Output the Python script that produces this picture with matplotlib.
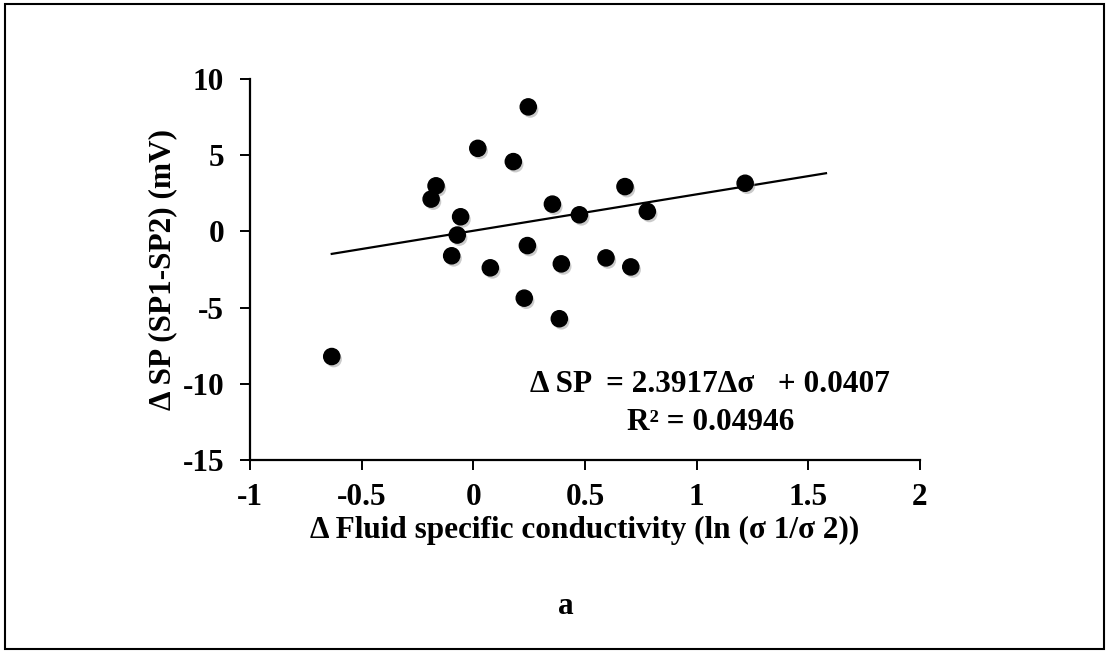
"""Scatter of delta SP against delta fluid conductivity, with linear trendline."""

import matplotlib.pyplot as plt
import matplotlib.patheffects as pe
from matplotlib.patches import Rectangle
import numpy as np

plt.switch_backend("Agg")
plt.rcParams["font.family"] = ["Liberation Serif", "DejaVu Serif"]
plt.rcParams["font.weight"] = "bold"

# values
d_sigma = [0.246, 0.02, 0.179, -0.167, -0.189, -0.057, -0.072, -0.097,
           0.076, 0.242, 0.354, 0.475, 0.679, 0.394, 0.594, 0.705,
           0.228, 0.385, -0.634, 1.217, 0.779]
d_sp = [8.17, 5.45, 4.58, 2.99, 2.12, 0.96, -0.24, -1.60,
        -2.39, -0.93, 1.79, 1.09, 2.94, -2.13, -1.74, -2.33,
        -4.38, -5.73, -8.21, 3.16, 1.31]

slope, intercept = 2.3917, 0.0407
fit_range = [-0.634, 1.579]

x_ticks = [-1, -0.5, 0, 0.5, 1, 1.5, 2]
x_labels = ["-1", "-0.5", "0", "0.5", "1", "1.5", "2"]
y_ticks = [-15, -10, -5, 0, 5, 10]
y_labels = ["-15", "-10", "-5", "0", "5", "10"]

FS = 22.5
W, H = 1109, 651

fig = plt.figure(figsize=(W / 100, H / 100), dpi=100)
ax = fig.add_axes([250 / W, 1 - 460 / H, 670 / W, 381 / H])

xf = np.array(fit_range)
ax.plot(xf, slope * xf + intercept, color="black", lw=1.6, zorder=2)

ax.scatter(d_sigma, d_sp, s=135, color="black", zorder=3,
           path_effects=[pe.SimplePatchShadow(offset=(1.5, -2), shadow_rgbFace="#999999", alpha=0.5),
                         pe.Normal()])

ax.set_xlim(-1, 2)
ax.set_ylim(-15, 10)
ax.set_xticks(x_ticks, x_labels)
ax.set_yticks(y_ticks, y_labels)
for side in ("top", "right"):
    ax.spines[side].set_visible(False)
for side in ("left", "bottom"):
    ax.spines[side].set_linewidth(1.6)
ax.tick_params(axis="both", direction="out", length=7.5, width=1.4, labelsize=FS)
ax.tick_params(axis="y", pad=11)
ax.tick_params(axis="x", pad=9)

ax.set_xlabel("Δ Fluid specific conductivity (ln (σ 1/σ 2))", fontsize=FS,
              fontweight="bold", labelpad=3)
ax.set_ylabel("Δ SP (SP1-SP2) (mV)", fontsize=FS, fontweight="bold", labelpad=4)

fig.text(710 / W, 1 - 385 / H, "Δ SP  = 2.3917Δσ   + 0.0407", ha="center", va="center",
         fontsize=FS, fontweight="bold")
fig.text(711 / W, 1 - 423 / H, "R² = 0.04946", ha="center", va="center",
         fontsize=FS, fontweight="bold")
fig.text(566 / W, 1 - 606 / H, "a", ha="center", va="center",
         fontsize=FS, fontweight="bold")

# outer frame around the whole figure
fig.patches.append(Rectangle((5 / W, 2 / H), 1099 / W, 645 / H,
                             transform=fig.transFigure, fill=False,
                             edgecolor="black", lw=1.5))

fig.savefig("out.png", dpi=100)
plt.close(fig)
